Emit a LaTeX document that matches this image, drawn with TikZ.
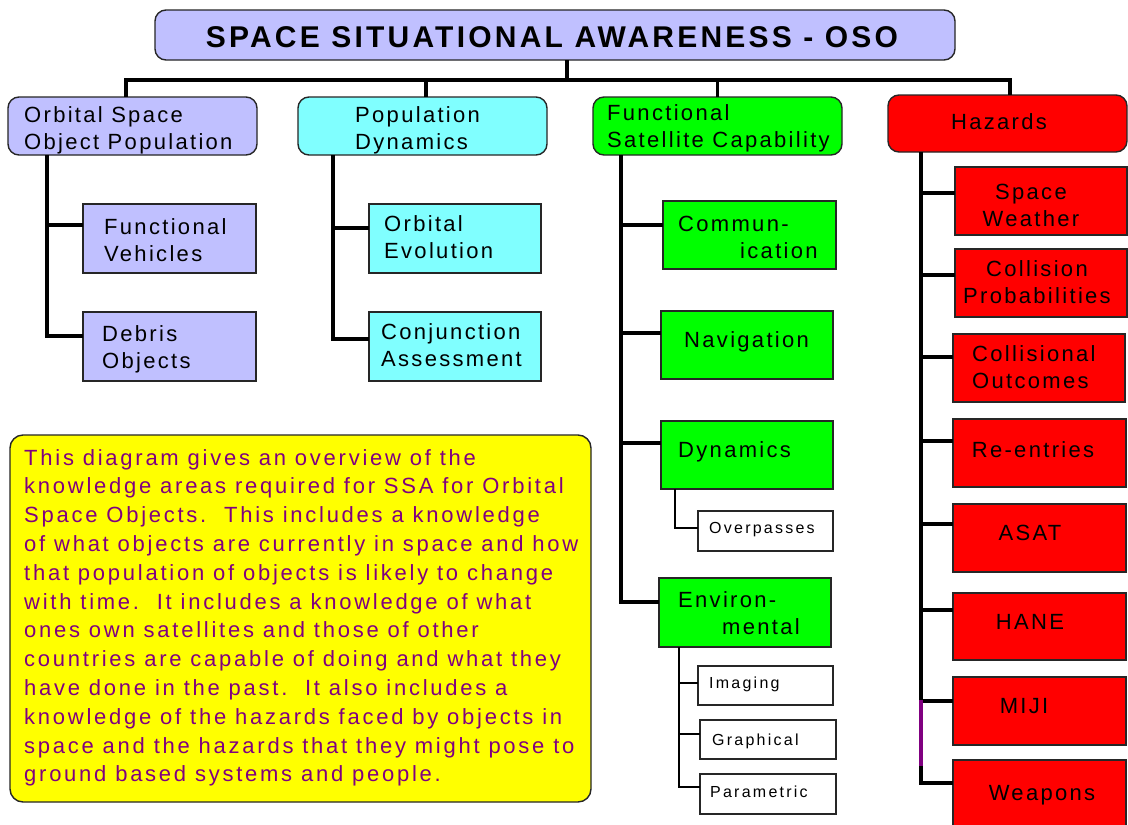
\documentclass[tikz,border=0pt]{standalone}
\usepackage{fontspec}
\setmainfont{Liberation Sans}
\newfontfamily\lblfont{Liberation Sans}[LetterSpace=10.5]
\newfontfamily\parfont{Liberation Sans}[LetterSpace=12.5]
\newfontfamily\smlfont{Liberation Sans}[LetterSpace=14]
\newfontfamily\ttlfont{Liberation Sans}[LetterSpace=10.7]
\definecolor{lav}{RGB}{192,192,255}
\definecolor{cyn}{RGB}{128,255,255}
\definecolor{grn}{RGB}{0,255,0}
\definecolor{rd}{RGB}{255,0,0}
\definecolor{ylw}{RGB}{255,255,0}
\definecolor{prp}{RGB}{128,0,128}
\newcommand\pbox[6]{\node[#6, minimum width={#4-#2}, minimum height={#5-#3}] (#1) at ({(#2+#4)/2},{(#3+#5)/2}) {};}
\begin{document}
\begin{tikzpicture}[x=1pt,y=-1pt,
  boxs/.style={draw=black!85, line width=1.4pt, inner sep=0pt, outer sep=0pt},
  hdr/.style={boxs, rounded corners=11pt},
  lnk/.style={line width=3.4pt, draw=black},
  thn/.style={line width=2.2pt, draw=black},
  lbl/.style={inner sep=0pt, align=left, font=\lblfont\fontsize{22}{27}\selectfont},
  lblc/.style={lbl, align=center},
  sml/.style={inner sep=0pt, font=\smlfont\fontsize{16}{20}\selectfont}]
\useasboundingbox (0,0) rectangle (1128,825);
\fill[white] (0,0) rectangle (1128,825);

% boxes
\pbox{title}{155}{10}{955}{60}{hdr, fill=lav}
\pbox{osp}{8}{97}{257}{155}{hdr, fill=lav}
\pbox{popdyn}{298}{97}{547}{155}{hdr, fill=cyn}
\pbox{fsc}{593}{97}{842}{155}{hdr, fill=grn}
\pbox{haz}{888}{95}{1127}{152}{hdr, fill=rd}

\pbox{fv}{83}{204}{256}{273}{boxs, fill=lav}
\pbox{debris}{83}{312}{256}{381}{boxs, fill=lav}
\pbox{orbev}{369}{204}{541}{273}{boxs, fill=cyn}
\pbox{conj}{369}{312}{541}{381}{boxs, fill=cyn}

\pbox{comm}{663}{201}{836}{269}{boxs, fill=grn}
\pbox{nav}{661}{311}{833}{379}{boxs, fill=grn}
\pbox{dyn}{661}{421}{833}{489}{boxs, fill=grn}
\pbox{ovp}{698}{511}{833}{551}{boxs, fill=white}
\pbox{env}{659}{578}{831}{647}{boxs, fill=grn}
\pbox{img}{698}{666}{833}{705}{boxs, fill=white}
\pbox{gra}{700}{720}{836}{759}{boxs, fill=white}
\pbox{par}{700}{774}{836}{814}{boxs, fill=white}

\pbox{sw}{955}{167}{1127}{235}{boxs, fill=rd}
\pbox{cp}{955}{249}{1127}{317}{boxs, fill=rd}
\pbox{co}{953}{334}{1125}{402}{boxs, fill=rd}
\pbox{re}{953}{419}{1126}{487}{boxs, fill=rd}
\pbox{asat}{953}{504}{1126}{572}{boxs, fill=rd}
\pbox{hane}{953}{593}{1126}{660}{boxs, fill=rd}
\pbox{miji}{953}{677}{1126}{745}{boxs, fill=rd}
\pbox{wpn}{953}{760}{1126}{830}{boxs, fill=rd}

\node[boxs, fill=ylw, rounded corners=13pt, minimum width=581, minimum height=367] (note) at (300.5,618.5) {};

% connectors
\draw[lnk] ([xshift=12pt]title.south) -- ++(0,20);
\draw[lnk] ([xshift=-6.5pt]osp.north) -- ++(0,-17) -| ([xshift=2.5pt]haz.north);
\draw[lnk] ([xshift=3.5pt]popdyn.north) -- ++(0,-17);
\draw[lnk] (fsc.north) -- ++(0,-17);

\coordinate (c1) at ([xshift=39pt]osp.south west);
\draw[lnk] (c1) |- ([yshift=13.5pt]fv.west);
\draw[lnk] (c1) |- ([yshift=10.5pt]debris.west);

\coordinate (c2) at ([xshift=35pt]popdyn.south west);
\draw[lnk] (c2) |- ([yshift=10.5pt]orbev.west);
\draw[lnk] (c2) |- ([yshift=7.5pt]conj.west);

\coordinate (c3) at ([xshift=28pt]fsc.south west);
\draw[lnk] (c3) |- ([yshift=10pt]comm.west);
\draw[lnk] (c3) |- ([yshift=12pt]nav.west);
\draw[lnk] (c3) |- ([yshift=12pt]dyn.west);
\draw[lnk] (c3) |- ([yshift=10.5pt]env.west);

\coordinate (c4) at ([xshift=14pt]dyn.south west);
\draw[thn] (c4) |- ([yshift=3pt]ovp.west);
\coordinate (c5) at ([xshift=20pt]env.south west);
\draw[thn] (c5) |- ([yshift=2.5pt]img.west);
\draw[thn] (c5) |- ([yshift=5.5pt]gra.west);
\draw[thn] (c5) |- ([yshift=7pt]par.west);

\coordinate (c6) at ([xshift=33pt]haz.south west);
\draw[lnk] (c6) |- ([yshift=8pt]sw.west);
\draw[lnk] (c6) |- ([yshift=8pt]cp.west);
\draw[lnk] (c6) |- ([yshift=11pt]co.west);
\draw[lnk] (c6) |- ([yshift=12pt]re.west);
\draw[lnk] (c6) |- ([yshift=14pt]asat.west);
\draw[lnk] (c6) |- ([yshift=16.5pt]hane.west);
\draw[lnk] (c6) |- ([yshift=10pt]miji.west);
\draw[lnk] (c6) |- ([yshift=12pt]wpn.west);
\path (c6 |- miji.west) ++(0,-11) coordinate (p1);
\draw[lnk, draw=prp] (p1) -- ++(0,66);

% texts
\node[inner sep=0pt, anchor=base, font=\ttlfont\bfseries\fontsize{30}{36}\selectfont] (title-t) at (552,47) {SPACE SITUATIONAL AWARENESS - OSO};
\node[lbl, anchor=north west] (osp-t) at (24,106.5) {Orbital Space\\Object Population};
\node[lbl, anchor=north west] (popdyn-t) at (355,106.5) {Population\\Dynamics};
\node[lbl, anchor=north west] (fsc-t) at (607,104.5) {Functional\\Satellite Capability};
\node[lblc, anchor=base] (haz-t) at (999,129.5) {Hazards};

\node[lbl, anchor=north west] (fv-t) at (104,218) {Functional\\Vehicles};
\node[lbl, anchor=north west] (debris-t) at (102,325) {Debris\\Objects};
\node[lbl, anchor=north west] (orbev-t) at (384,215) {Orbital\\Evolution};
\node[lbl, anchor=north west] (conj-t) at (381,323) {Conjunction\\Assessment};

\node[lbl, anchor=north west] (comm-t) at (678,215.5) {Commun-\\\hspace*{62pt}ication};
\node[lbl, anchor=base west] (nav-t) at (684,347.5) {Navigation};
\node[lbl, anchor=base west] (dyn-t) at (678,457.5) {Dynamics};
\node[lbl, anchor=north west] (env-t) at (678,591.5) {Environ-\\\hspace*{44pt}mental};
\node[sml, anchor=base west] (ovp-t) at (709,533) {Overpasses};
\node[sml, anchor=base west] (img-t) at (709,688) {Imaging};
\node[sml, anchor=base west] (gra-t) at (712,745) {Graphical};
\node[sml, anchor=base west] (par-t) at (710,797) {Parametric};

\node[lblc, anchor=north] (sw-t) at (1031,183.5) {Space\\Weather};
\node[lblc, anchor=north] (cp-t) at (1037,260.5) {Collision\\Probabilities};
\node[lbl, anchor=north west] (co-t) at (972,345.5) {Collisional\\Outcomes};
\node[lblc, anchor=base] (re-t) at (1033,457.5) {Re-entries};
\node[lblc, anchor=base] (asat-t) at (1030,540.5) {ASAT};
\node[lblc, anchor=base] (hane-t) at (1030,629.5) {HANE};
\node[lblc, anchor=base] (miji-t) at (1024,713.5) {MIJI};
\node[lblc, anchor=base] (wpn-t) at (1042,800.5) {Weapons};

\node[inner sep=0pt, anchor=north west, align=left, text=prp, font=\parfont\fontsize{22}{28.8}\selectfont] (note-t) at (24,449) {This diagram gives an overview of the\\knowledge areas required for SSA for Orbital\\Space Objects.\ \ This includes a knowledge\\of what objects are currently in space and how\\that population of objects is likely to change\\with time.\ \ It includes a knowledge of what\\ones own satellites and those of other\\countries are capable of doing and what they\\have done in the past.\ \ It also includes a\\knowledge of the hazards faced by objects in\\space and the hazards that they might pose to\\ground based systems and people.};
\end{tikzpicture}
\end{document}
